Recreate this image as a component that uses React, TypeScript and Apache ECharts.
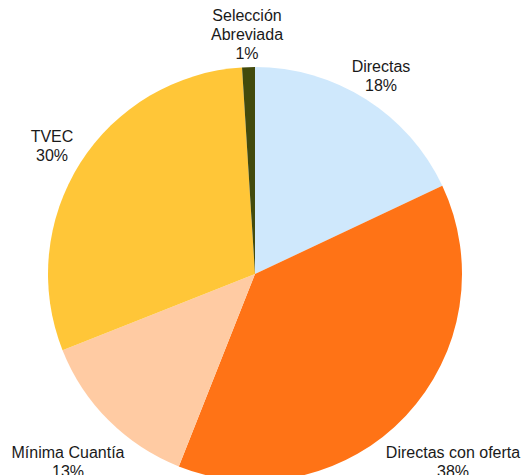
import React, { useEffect, useRef } from "react";
import * as echarts from "echarts";

const categories = ["Directas", "Directas con oferta", "Mínima Cuantía", "TVEC", "Selección\nAbreviada"];
const values = [18, 38, 13, 30, 1];
const colors = ["#CFE8FC", "#FF7316", "#FFCBA3", "#FFC638", "#424A0C"];
const labelPos: [number, number][] = [
  [381, 76],
  [453, 462],
  [68, 462],
  [52, 146],
  [247, 34],
];

export default function App() {
  const ref = useRef<HTMLDivElement>(null);
  useEffect(() => {
    if (!ref.current) return;
    const chart = echarts.init(ref.current, undefined, { renderer: "svg" });
    chart.setOption({
      animation: false,
      backgroundColor: "#ffffff",
      series: [
        {
          type: "pie",
          center: [255, 274],
          radius: 207,
          startAngle: 90,
          clockwise: true,
          avoidLabelOverlap: false,
          data: categories.map((c, i) => ({
            name: c,
            value: values[i],
            itemStyle: { color: colors[i] },
          })),
          label: {
            show: true,
            position: "outside",
            formatter: (p: any) => `${p.name}\n${p.value}%`,
            fontFamily: "Liberation Sans, Arial, sans-serif",
            fontSize: 16,
            lineHeight: 19,
            color: "#1a1a1a",
            align: "center",
          },
          labelLine: { show: false },
          labelLayout: (params: any) => {
            const p = labelPos[params.dataIndex];
            return { x: p[0], y: p[1], align: "center", verticalAlign: "middle" };
          },
          emphasis: { disabled: true },
        },
      ],
    });
    return () => chart.dispose();
  }, []);
  return (
    <div
      ref={ref}
      style={{ position: "fixed", left: 0, top: 0, width: 525, height: 475 }}
    />
  );
}
